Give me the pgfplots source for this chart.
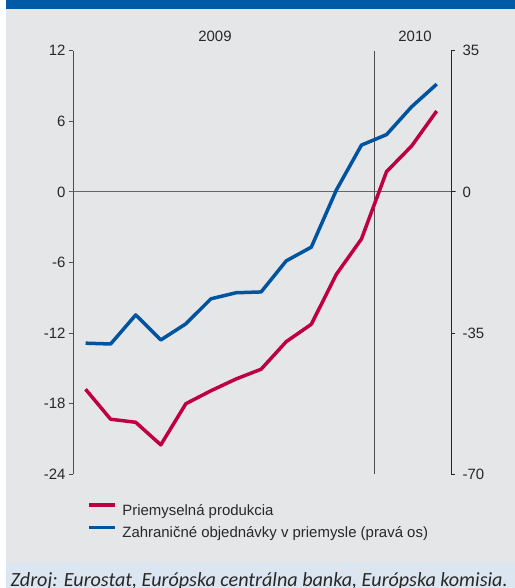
\documentclass[border=0pt]{standalone}
\usepackage{fontspec}
\setmainfont{Liberation Sans}
\newfontfamily\footfont{Carlito}
\usepackage{pgfplots}
\pgfplotsset{compat=1.18}
\definecolor{hdrblue}{RGB}{0,90,165}
\definecolor{panelgray}{RGB}{229,230,232}
\definecolor{footblue}{RGB}{220,230,241}
\definecolor{redline}{RGB}{190,0,65}
\definecolor{blueline}{RGB}{0,84,159}
\definecolor{txt}{RGB}{40,40,40}
\begin{document}
\begin{tikzpicture}[x=1bp,y=1bp]
\clip (0,0) rectangle (515,588);
\fill[white] (0,0) rectangle (515,588);
\fill[hdrblue] (6,579.3) rectangle (515,588);
\fill[panelgray] (6,25.7) rectangle (515,579.3);
\fill[footblue] (6,0) rectangle (515,25.7);
\node[anchor=base west, inner sep=0, font=\footfont\itshape\fontsize{20.2}{22}\selectfont, text=txt] at (10.5,1.2) {Zdroj: Eurostat, Európska centrálna banka, Európska komisia.};
\node[anchor=base, inner sep=0, font=\fontsize{15}{15}\selectfont, text=txt] at (215,546.3) {2009};
\node[anchor=base, inner sep=0, font=\fontsize{15}{15}\selectfont, text=txt] at (415,546.3) {2010};
\begin{axis}[
  at={(73bp,113.7bp)}, anchor=south west, scale only axis,
  width=378bp, height=423.6bp,
  xmin=0.5, xmax=15.57, ymin=-24, ymax=12,
  axis x line=none, axis y line*=left,
  axis line style={-, draw=black!70, line width=0.8bp},
  ytick={-24,-18,-12,-6,0,6,12},
  tick align=outside, major tick length=4bp,
  tick style={black!70, line width=0.8bp},
  yticklabel style={font=\fontsize{15}{15}\selectfont, text=txt},
  /pgf/number format/assume math mode=true,
  clip=false,
]
\draw[black!60, line width=0.8bp] (axis cs:0.374,0) -- (axis cs:15.77,0);
\draw[black!70, line width=0.8bp] (axis cs:12.5,-24) -- (axis cs:12.5,12);
\addplot[redline, line width=3.5bp, line join=round] coordinates {
(1,-16.77)(2,-19.32)(3,-19.58)(4,-21.5)(5,-18.0)(6,-16.9)(7,-15.9)(8,-15.07)(9,-12.73)(10,-11.25)(11,-7.0)(12,-4.0)(13,1.72)(14,3.9)(15,6.87)};
\end{axis}
\begin{axis}[
  at={(73bp,113.7bp)}, anchor=south west, scale only axis,
  width=378bp, height=423.6bp,
  xmin=0.5, xmax=15.57, ymin=-70, ymax=35,
  axis x line=none, axis y line*=right,
  axis line style={-, draw=black!85, line width=0.8bp},
  ytick={-70,-35,0,35},
  tick align=outside, major tick length=4bp,
  tick style={black!85, line width=0.8bp},
  yticklabel style={font=\fontsize{15}{15}\selectfont, text=txt, xshift=4bp},
  /pgf/number format/assume math mode=true,
  clip=false,
  legend style={at={(0.0362,-0.0666)}, anchor=north west, draw=none, fill=none,
    font=\fontsize{15}{15}\selectfont, text=txt, inner sep=0pt,
    nodes={inner xsep=0pt, inner ysep=2bp}, row sep=5.5bp,
    /tikz/column 1/.style={column sep=5.5bp}},
  legend cell align=left,
  legend image code/.code={\draw[#1] (0bp,5.5bp) -- (26bp,5.5bp);},
]
\addlegendimage{redline, line width=4bp}
\addlegendentry{Priemyselná produkcia}
\addplot[blueline, line width=3.5bp, line join=round] coordinates {
(1,-37.5)(2,-37.7)(3,-30.5)(4,-36.7)(5,-32.7)(6,-26.5)(7,-25.0)(8,-24.8)(9,-17.1)(10,-13.7)(11,0.47)(12,11.6)(13,14.2)(14,21.1)(15,26.7)};
\addlegendentry{Zahraničné objednávky v priemysle (pravá os)}
\end{axis}
\end{tikzpicture}
\end{document}
